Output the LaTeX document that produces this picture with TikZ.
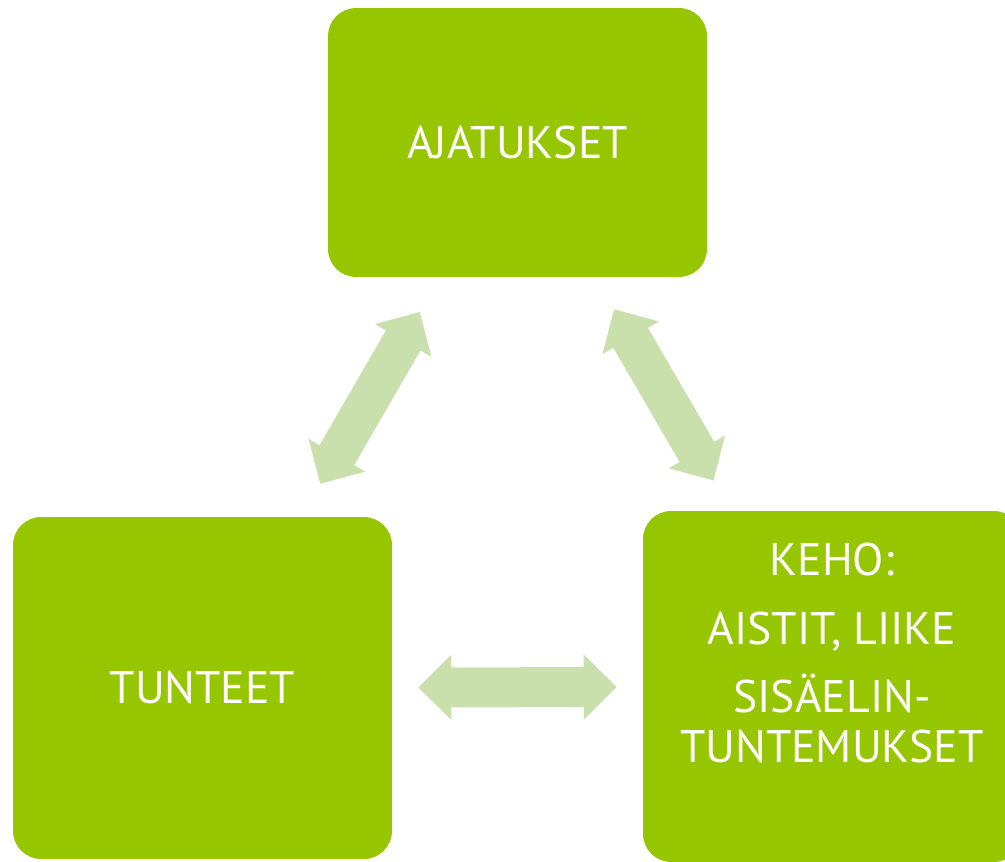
\documentclass[tikz,border=0pt]{standalone}
\usepackage{fontspec}
\setmainfont{PT Sans}
\usepackage{tikz}
\usetikzlibrary{positioning,arrows.meta}

\definecolor{laatikko}{RGB}{150,198,0}
\definecolor{nuoli}{RGB}{201,224,172}

\begin{document}
\begin{tikzpicture}[x=0.02cm,y=-0.02cm]
        \tikzstyle{every node}=[font=\fontsize{26}{28.45}\selectfont, text=white]
        \tikzstyle{box}=[fill=laatikko, rounded corners=0.56cm, minimum width=7.58cm, inner sep=0pt]
        \tikzstyle{bigarrow}=[color=nuoli, line width=0.8cm,
            {Triangle[length=0.66cm,width=1.3cm,line width=1pt]}-{Triangle[length=0.66cm,width=1.3cm,line width=1pt]}]

        \useasboundingbox (0,0) rectangle (1005,862);
        \clip (0,0) rectangle (1005,862);

        \node   (ajatukset)  [box, minimum height=5.38cm] at (517.5,142.5) {AJATUKSET};
        \node   (tunteet)    [box, minimum height=6.84cm] at (202.5,688)   {TUNTEET};
        \node   (keho)       [box, minimum height=7.02cm] at (832.5,686.5) {};
        \node   (kehoteksti) [align=center] at (832,653)
            {KEHO:\\[0.38cm] AISTIT, LIIKE\\[0.38cm] SISÄELIN-\\TUNTEMUKSET};

        % double arrows between the boxes
        \draw[bigarrow, shorten <=0.76cm, shorten >=0.8cm]  (tunteet)   -- (ajatukset);
        \draw[bigarrow, shorten <=0.74cm, shorten >=0.7cm]  (ajatukset) -- (keho);
        \draw[bigarrow, shorten <=0.52cm, shorten >=0.52cm] (tunteet)   -- (keho);

\end{tikzpicture}
\end{document}
